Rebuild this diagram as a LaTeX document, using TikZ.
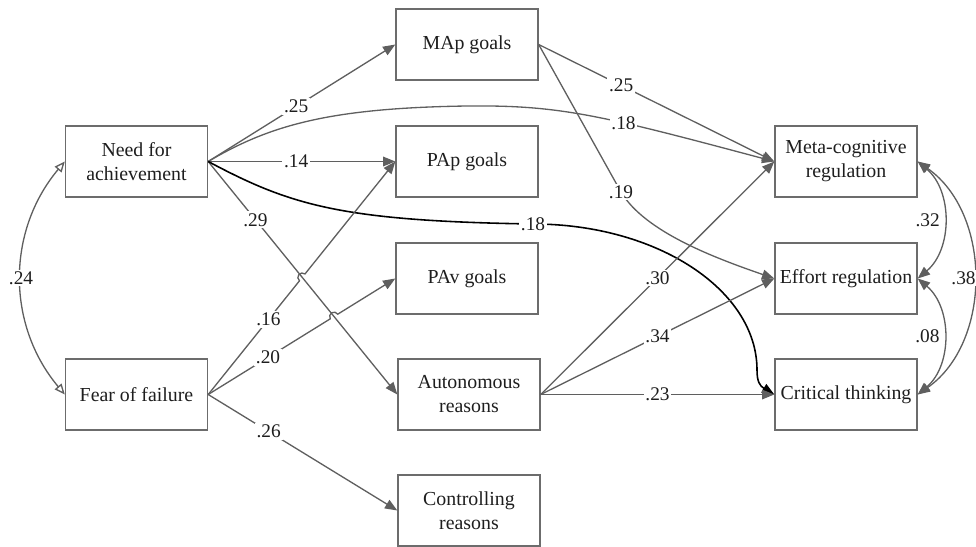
\documentclass[tikz,border=0pt]{standalone}
\usepackage{fontspec}
\setmainfont{Liberation Serif}
\usetikzlibrary{arrows.meta,calc,intersections}

\definecolor{edgegray}{RGB}{95,95,95}
\definecolor{boxgray}{RGB}{108,108,108}
\definecolor{txtgray}{RGB}{30,30,30}

\tikzset{
	var/.style={draw=boxgray, line width=0.8pt, minimum width=2.84cm, minimum height=1.42cm, inner sep=0pt, align=center, text=txtgray, font=\fontsize{11.3}{13.7}\selectfont},
	arr/.style={draw=edgegray, line width=0.75pt, -{Triangle[length=7pt,width=5.5pt]}},
	blk/.style={draw=black, line width=0.9pt, -{Triangle[length=7pt,width=5.5pt]}},
	cov/.style={draw=edgegray, line width=0.75pt, {Triangle[length=7pt,width=5.5pt]}-{Triangle[length=7pt,width=5.5pt]}},
	opencov/.style={draw=edgegray, line width=0.75pt, {Triangle[open,length=6pt,width=5pt]}-{Triangle[open,length=6pt,width=5pt]}},
	coef/.style={fill=white, inner sep=1pt, text=txtgray, font=\fontsize{11}{13}\selectfont},
}

\begin{document}
\begin{tikzpicture}[x=0.02cm, y=0.02cm]
	\useasboundingbox (0,0) rectangle (976,-547);

	\node[var] (need) at (136.5,-161.5) {Need for\\achievement};
	\node[var] (fear) at (136.5,-394.5) {Fear of failure};
	\node[var] (map)  at (467,-44.5)  {MAp goals};
	\node[var] (pap)  at (467,-161.5) {PAp goals};
	\node[var] (pav)  at (467,-278.5) {PAv goals};
	\node[var] (aut)  at (469,-394.5) {Autonomous\\reasons};
	\node[var] (ctrl) at (469,-510.5) {Controlling\\reasons};
	\node[var] (meta) at (846,-161.5) {Meta-cognitive\\regulation};
	\node[var] (eff)  at (846,-278.5) {Effort regulation};
	\node[var] (crit) at (846,-394.5) {Critical thinking};

	% need for achievement
	\draw[arr] (need.east) -- node[coef,pos=0.47] {.25} (map.west);
	\draw[arr] (need.east) -- node[coef,pos=0.47] {.14} (pap.west);
	\draw[arr, name path=p29] (need.east) -- node[coef,pos=0.25] {.29} (aut.west);
	\draw[arr] (need.east) .. controls (270,-125) and (330,-108) .. (467,-106)
		.. controls (560,-105) and (600,-115) .. (meta.west) node[coef,pos=0.62] {.18};
	\draw[blk] (need.east) .. controls (290,-205) and (340,-221) .. (533,-224) node[coef] {.18}
		.. controls (657,-224) and (757,-290) .. (757,-370)
		.. controls (757,-382) and (760,-386) .. (crit.west);

	% fear of failure (hops over the .29 path)
	\path[name path=p16] (fear.east) -- (pap.west);
	\path[name path=p20] (fear.east) -- (pav.west);
	\path[name intersections={of=p29 and p16, by=x16}];
	\path[name intersections={of=p29 and p20, by=x20}];
	\draw[arr] let \p1=($(pap.west)-(fear.east)$), \n1={atan2(\y1,\x1)} in
		(fear.east) -- ($(x16)!2.5pt!(fear.east)$) node[coef,pos=0.66] {.16}
		arc[start angle=\n1+180, end angle=\n1, radius=2.5pt] -- (pap.west);
	\draw[arr] let \p1=($(pav.west)-(fear.east)$), \n1={atan2(\y1,\x1)} in
		(fear.east) -- ($(x20)!2.5pt!(fear.east)$) node[coef,pos=0.49] {.20}
		arc[start angle=\n1+180, end angle=\n1, radius=2.5pt] -- (pav.west);
	\draw[arr] (fear.east) -- node[coef,pos=0.32] {.26} (ctrl.west);

	% goals and reasons
	\draw[arr] (map.east) -- node[coef,pos=0.35] {.25} (meta.west);
	\draw[arr] (map.east) -- (621,-192) node[coef] {.19}
		.. controls (645,-232) and (715,-258) .. (eff.west);
	\foreach \t/\v in {meta/.30, eff/.34, crit/.23}
		\draw[arr] (aut.east) -- node[coef] {\v} (\t.west);

	% covariances
	\draw[opencov] (need.west) to[out=-130,in=130] node[coef] {.24} (fear.west);
	\draw[cov] (meta.east) to[out=-40,in=40] node[coef,left=1pt] {.32} (eff.east);
	\draw[cov] (eff.east) to[out=-40,in=40] node[coef,left=1pt] {.08} (crit.east);
	\draw[cov] (meta.east) to[out=-35,in=35] node[coef,xshift=-0.2cm] {.38} (crit.east);
\end{tikzpicture}
\end{document}
